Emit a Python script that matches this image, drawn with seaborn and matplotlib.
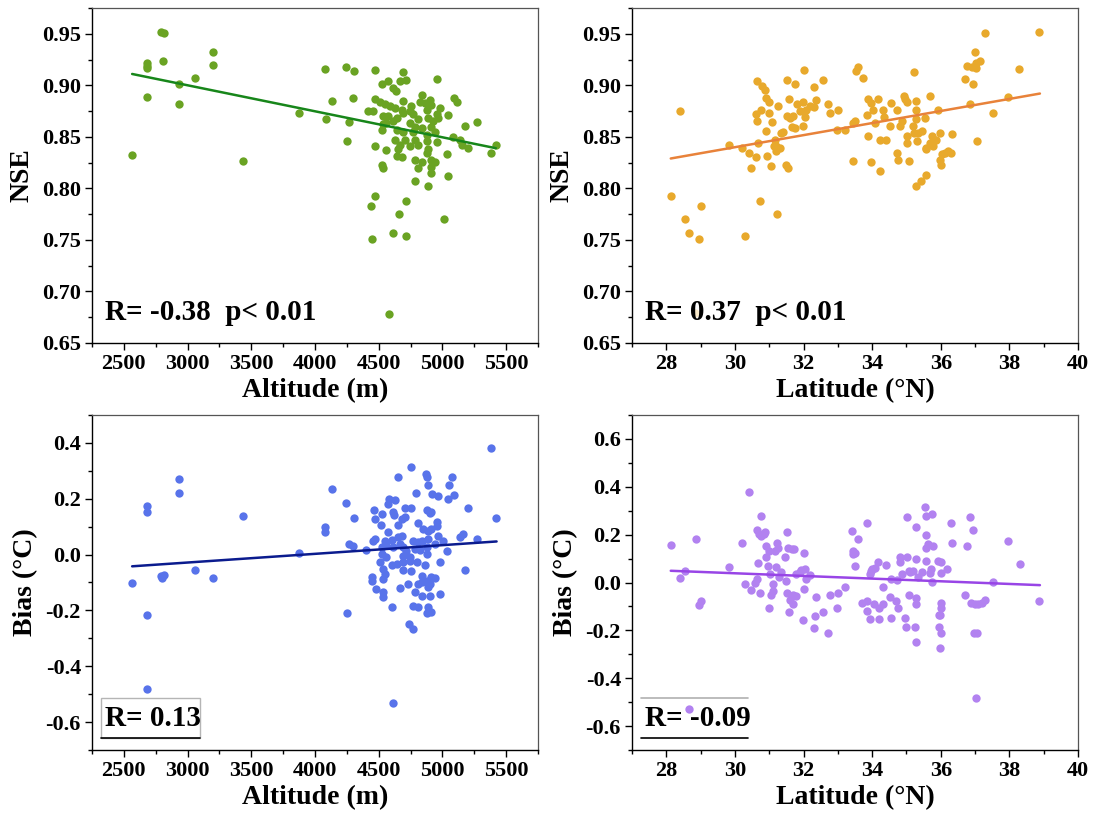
import matplotlib
matplotlib.use("Agg")
import matplotlib.pyplot as plt
import seaborn as sns
import numpy as np
from matplotlib.ticker import MultipleLocator, FormatStrFormatter
from matplotlib.patches import Rectangle

sns.set_theme(style="white")
plt.rcParams['font.family'] = ['Liberation Serif', 'DejaVu Serif']
plt.rcParams['font.weight'] = 'bold'
plt.rcParams['axes.unicode_minus'] = False
for k in ['text.color', 'axes.labelcolor', 'xtick.color', 'ytick.color']:
    plt.rcParams[k] = 'black'

# ---------------- Panel (a): NSE vs Altitude ----------------
alt_a = [2565, 2680, 2680, 2680, 2680, 2790, 2817, 2806, 2934, 2934, 3060, 3196, 3196,
         3434, 3876, 4080, 4085, 4130, 4242, 4250, 4268, 4295, 4308, 4441, 4444, 4580,
         4614, 4663, 4713, 4718, 5011, 5385, 5419,
         4470, 4687, 4522, 4574, 4614, 4635, 4666, 4718, 4954, 4470, 4514, 4548, 4417,
         4457, 4587, 4627, 4679, 4692, 4757, 4744, 4836, 4823, 4862, 4901, 4914, 4875,
         4980, 5090, 5116, 4535, 4574, 4614, 4561, 4640, 4692, 4771, 4810, 4784, 4744,
         4888, 4928, 4967, 4954, 5045, 4914, 4522, 4535, 4640, 4692, 4771, 4836, 4875,
         4941, 5176, 5273, 4470, 4561, 4627, 4666, 4705, 4653, 4744, 4784, 4810, 4875,
         4954, 5084, 5137, 5150, 5202, 4640, 4679, 4875, 4888, 5032, 4522, 4530, 4784,
         4836, 4810, 4914, 4941, 4914, 4914, 5045, 4784, 4888, 4470]
nse_a = [0.832, 0.889, 0.917, 0.919, 0.922, 0.952, 0.951, 0.924, 0.901, 0.882, 0.907,
         0.932, 0.920, 0.827, 0.873, 0.916, 0.867, 0.885, 0.918, 0.846, 0.864, 0.888,
         0.914, 0.783, 0.751, 0.678, 0.757, 0.775, 0.754, 0.788, 0.770, 0.834, 0.842,
         0.915, 0.913, 0.901, 0.904, 0.897, 0.894, 0.904, 0.905, 0.906, 0.887, 0.884,
         0.882, 0.875, 0.875, 0.880, 0.878, 0.876, 0.885, 0.880, 0.875, 0.891, 0.884,
         0.883, 0.886, 0.881, 0.876, 0.878, 0.888, 0.884, 0.870, 0.870, 0.865, 0.863,
         0.868, 0.873, 0.872, 0.867, 0.860, 0.863, 0.868, 0.865, 0.868, 0.872, 0.871,
         0.860, 0.857, 0.862, 0.857, 0.855, 0.855, 0.859, 0.852, 0.855, 0.861, 0.864,
         0.841, 0.837, 0.847, 0.842, 0.847, 0.838, 0.841, 0.847, 0.842, 0.846, 0.845,
         0.850, 0.847, 0.842, 0.839, 0.831, 0.830, 0.834, 0.838, 0.833, 0.823, 0.820,
         0.828, 0.826, 0.820, 0.828, 0.826, 0.821, 0.815, 0.812, 0.807, 0.802, 0.793]
fit_a_x = [2565, 5419]
fit_a_y = [0.911, 0.839]

# ---------------- Panel (b): NSE vs Latitude ----------------
lat_b = [28.13, 28.39, 28.55, 28.66, 28.94, 29.00, 29.83, 30.21, 30.29, 30.42, 30.46,
         30.60, 30.66, 30.65, 30.61, 30.65, 30.73, 30.77, 30.80, 30.87, 30.93, 30.92,
         30.90, 30.98, 31.00, 31.06, 31.09, 31.13, 31.19, 31.22, 31.16, 31.21, 31.26,
         31.31, 31.35, 31.40, 31.50, 31.55, 31.53, 31.57, 31.53, 31.60, 31.65, 31.70,
         31.74, 31.74, 31.82, 31.89, 31.97, 32.02, 31.99, 32.04, 32.08, 32.18, 32.31,
         32.36, 32.31, 32.57, 32.70, 32.78, 33.01, 32.98, 33.20, 33.45, 33.45, 33.50,
         33.52, 33.60, 33.72, 33.85, 33.87, 33.87, 33.98, 33.96, 34.03, 34.16, 34.08,
         34.22, 34.22, 34.32, 34.34, 34.40, 34.52, 34.56, 34.71, 34.71, 34.74, 34.81,
         34.88, 34.93, 34.95, 35.02, 35.02, 35.03, 35.07, 35.20, 35.22, 35.22, 35.27,
         35.29, 35.29, 35.32, 35.34, 35.44, 35.54, 35.57, 35.58, 35.68, 35.68, 35.73,
         35.78, 35.86, 35.93, 35.97, 35.99, 36.02, 36.04, 36.12, 36.22, 36.31, 36.34,
         35.29, 35.42, 35.56, 36.70, 36.75, 36.90, 36.95, 37.00, 37.04, 37.14, 37.04,
         36.85, 37.07, 37.29, 37.53, 37.97, 38.29, 38.87, 28.83]
nse_b = [0.793, 0.875, 0.770, 0.757, 0.751, 0.783, 0.842, 0.839, 0.754, 0.834, 0.820,
         0.830, 0.844, 0.904, 0.872, 0.865, 0.788, 0.876, 0.899, 0.895, 0.831, 0.856,
         0.888, 0.884, 0.873, 0.822, 0.864, 0.841, 0.841, 0.775, 0.847, 0.836, 0.880,
         0.839, 0.854, 0.855, 0.823, 0.820, 0.905, 0.887, 0.870, 0.868, 0.860, 0.870,
         0.901, 0.859, 0.882, 0.875, 0.861, 0.915, 0.884, 0.869, 0.876, 0.880, 0.898,
         0.886, 0.879, 0.905, 0.882, 0.873, 0.876, 0.857, 0.857, 0.863, 0.827, 0.865,
         0.914, 0.918, 0.907, 0.871, 0.887, 0.851, 0.826, 0.883, 0.876, 0.887, 0.863,
         0.847, 0.817, 0.876, 0.869, 0.847, 0.861, 0.883, 0.876, 0.834, 0.828, 0.861,
         0.865, 0.890, 0.887, 0.884, 0.851, 0.844, 0.827, 0.861, 0.913, 0.854, 0.876,
         0.885, 0.867, 0.846, 0.854, 0.856, 0.868, 0.838, 0.839, 0.890, 0.844, 0.851,
         0.841, 0.847, 0.876, 0.854, 0.828, 0.823, 0.833, 0.834, 0.836, 0.834, 0.853,
         0.802, 0.807, 0.813, 0.906, 0.919, 0.918, 0.901, 0.932, 0.922, 0.924, 0.917,
         0.882, 0.846, 0.951, 0.873, 0.889, 0.916, 0.952, 0.679]
fit_b_x = [28.13, 38.89]
fit_b_y = [0.829, 0.892]

# ---------------- Panel (c): Bias vs Altitude ----------------
alt_c = [2565, 2680, 2680, 2680, 2680, 2790, 2803, 2817, 2934, 2934, 3060, 3196, 3434,
         3876, 4080, 4080, 4130, 4242, 4250, 4268, 4295, 4308, 4611, 5385, 5419,
         4752, 4653, 4870, 4880, 5079, 4883, 5053, 4789, 4922, 4967, 5092, 5045, 4582,
         4627, 4574, 4464, 4522, 4470, 4614, 4621, 4705, 4757, 4875, 4901, 4914, 5202,
         4705, 4679, 4517, 4648, 4810, 4849, 4888, 4914, 4954, 4954, 4574, 4470, 4457,
         4548, 4601, 4653, 4679, 4771, 4810, 4836, 4888, 4967, 5006, 5137, 5163, 5273,
         4404, 4522, 4561, 4614, 4666, 4692, 4718, 4784, 4823, 4875, 4941, 5032, 4522,
         4561, 4687, 4744, 4875, 4514, 4601, 4640, 4692, 4744, 4797, 4862, 4980, 4535,
         4548, 4692, 4757, 4836, 4444, 4444, 4914, 4941, 4535, 4836, 4875, 4901, 4888,
         4810, 4731, 4666, 4478, 4530, 4535, 4784, 4836, 4901, 4980, 4608, 4771, 4810,
         4888, 4875, 4914, 4739, 4771, 5179]
bias_c = [-0.103, 0.175, 0.152, -0.215, -0.482, -0.075, -0.084, -0.072, 0.271, 0.220,
          -0.054, -0.085, 0.137, 0.005, 0.098, 0.080, 0.235, 0.184, -0.208, 0.038,
          0.032, 0.130, -0.531, 0.381, 0.130,
          0.315, 0.279, 0.289, 0.279, 0.277, 0.249, 0.249, 0.220, 0.217, 0.211, 0.214,
          0.199, 0.199, 0.196, 0.181, 0.158, 0.146, 0.128, 0.152, 0.143, 0.166, 0.166,
          0.160, 0.148, 0.152, 0.166, 0.134, 0.128, 0.107, 0.107, 0.112, 0.092, 0.086,
          0.092, 0.116, 0.104, 0.082, 0.056, 0.050, 0.048, 0.053, 0.062, 0.068, 0.050,
          0.044, 0.048, 0.056, 0.068, 0.050, 0.062, 0.072, 0.056, 0.017, 0.026, 0.035,
          0.026, 0.038, 0.026, 0.014, 0.020, 0.017, 0.026, 0.038, 0.012, 0.002, -0.007,
          -0.004, -0.010, 0.002, -0.027, -0.039, -0.033, -0.027, -0.022, -0.027, -0.039,
          -0.027, -0.051, -0.069, -0.057, -0.060, -0.075, -0.079, -0.096, -0.079, -0.084,
          -0.087, -0.099, -0.093, -0.105, -0.117, -0.105, -0.105, -0.119, -0.123, -0.135,
          -0.153, -0.135, -0.147, -0.150, -0.141, -0.186, -0.183, -0.186, -0.186, -0.210,
          -0.206, -0.248, -0.266, -0.057]
fit_c_x = [2565, 5425]
fit_c_y = [-0.042, 0.047]

# ---------------- Panel (d): Bias vs Latitude ----------------
lat_d = [28.13, 28.39, 28.55, 28.88, 28.94, 29.00, 28.66, 29.83, 30.20, 30.29, 30.42,
         30.46, 30.58, 30.63, 30.63, 30.67, 30.70, 30.76, 30.72, 30.77, 30.85, 30.87,
         30.92, 30.92, 30.95, 30.99, 31.00, 31.03, 31.06, 31.11, 31.11, 31.16, 31.21,
         31.24, 31.26, 31.29, 31.35, 31.47, 31.50, 31.51, 31.53, 31.55, 31.57, 31.60,
         31.65, 31.70, 31.70, 31.73, 31.79, 31.79, 31.89, 31.94, 31.99, 32.01, 32.01,
         32.04, 32.08, 32.18, 32.33, 32.36, 32.31, 32.57, 32.71, 32.78, 32.98, 33.01,
         33.22, 33.40, 33.45, 33.45, 33.50, 33.50, 33.60, 33.84, 33.71, 33.85, 33.85,
         33.93, 33.95, 33.98, 34.01, 34.06, 34.08, 34.16, 34.20, 34.20, 34.32, 34.32,
         34.39, 34.51, 34.56, 34.54, 34.69, 34.71, 34.76, 34.81, 34.81, 34.88, 34.95,
         35.00, 35.02, 35.03, 35.06, 35.08, 35.10, 35.20, 35.24, 35.27, 35.29, 35.29,
         35.29, 35.29, 35.34, 35.44, 35.54, 35.57, 35.57, 35.58, 35.58, 35.63, 35.68,
         35.71, 35.73, 35.73, 35.78, 35.93, 35.95, 35.95, 35.97, 35.99, 36.00, 36.02,
         36.02, 36.02, 36.02, 36.17, 36.29, 36.33, 36.70, 36.75, 36.85, 36.88, 36.95,
         36.97, 36.99, 37.06, 37.09, 37.04, 37.19, 37.29, 37.53, 37.97, 38.31, 38.87]
bias_d = [0.156, 0.017, 0.046, 0.181, -0.096, -0.077, -0.530, 0.064, 0.165, -0.008,
          0.379, -0.032, 0.000, 0.014, 0.219, 0.081, 0.202, 0.277, -0.045, 0.195,
          0.202, 0.213, 0.153, 0.107, 0.067, -0.107, 0.132, 0.035, -0.053, -0.007,
          -0.035, 0.132, 0.063, 0.167, 0.144, 0.025, 0.042, 0.105, 0.007, 0.209,
          -0.042, 0.144, -0.125, -0.073, 0.139, -0.053, -0.091, 0.139, -0.056, 0.035,
          0.042, 0.052, -0.156, 0.125, -0.028, 0.056, 0.014, 0.032, -0.142, -0.060,
          -0.191, -0.124, -0.212, -0.052, -0.105, -0.042, -0.018, 0.215, 0.132, 0.119,
          0.125, 0.067, 0.183, 0.247, -0.086, -0.079, -0.121, 0.035, -0.153, 0.046,
          0.056, -0.088, 0.060, 0.084, -0.153, -0.105, -0.018, -0.088, 0.073, -0.060,
          0.014, -0.148, -0.077, 0.010, -0.105, 0.107, 0.084, 0.035, -0.149, -0.188,
          0.275, 0.107, -0.053, 0.049, 0.042, 0.049, -0.187, -0.091, -0.063, -0.248,
          0.234, 0.098, 0.021, 0.042, 0.314, 0.199, 0.279, 0.146, 0.091, 0.160, 0.038,
          0.056, 0.003, 0.286, 0.153, 0.091, -0.135, -0.188, -0.135, -0.272, 0.084,
          -0.209, -0.084, -0.105, 0.038, 0.056, 0.248, 0.166, -0.053, 0.153, 0.272,
          -0.084, 0.219, -0.213, -0.088, -0.209, -0.088, -0.484, -0.084, -0.073, 0.004,
          0.174, 0.079, -0.078]
fit_d_x = [28.13, 38.89]
fit_d_y = [0.049, -0.011]

# ---------------- Figure ----------------
fig = plt.figure(figsize=(10.96, 8.22), dpi=100)
W, H = 1096, 822
def add_ax(l, t, r, b):
    return fig.add_axes([l / W, 1 - b / H, (r - l) / W, (b - t) / H])

ax1 = add_ax(92, 8, 538, 343)
ax2 = add_ax(632, 8, 1078, 343)
ax3 = add_ax(92, 415, 538, 750)
ax4 = add_ax(632, 415, 1078, 750)

panels = [
    (ax1, alt_a, nse_a, fit_a_x, fit_a_y, '#6aa323', '#17861a', 'Altitude (m)', 'NSE'),
    (ax2, lat_b, nse_b, fit_b_x, fit_b_y, '#e8a92c', '#e8823a', 'Latitude (°N)', 'NSE'),
    (ax3, alt_c, bias_c, fit_c_x, fit_c_y, '#5873ea', '#0b1b8e', 'Altitude (m)', 'Bias (°C)'),
    (ax4, lat_d, bias_d, fit_d_x, fit_d_y, '#b282f0', '#9845e6', 'Latitude (°N)', 'Bias (°C)'),
]

for ax, xs, ys, fx, fy, pc, lc, xl, yl in panels:
    sns.scatterplot(x=xs, y=ys, ax=ax, color=pc, s=36, linewidth=0, zorder=3)
    sns.lineplot(x=fx, y=fy, ax=ax, color=lc, linewidth=1.8, zorder=4)
    ax.set_xlabel(xl, fontsize=20, fontweight='bold', labelpad=3, color='black')
    ax.set_ylabel(yl, fontsize=20, fontweight='bold', labelpad=5, color='black')
    for side in ['left', 'bottom']:
        ax.spines[side].set_color('black')
        ax.spines[side].set_linewidth(1.0)
    for side in ['top', 'right']:
        ax.spines[side].set_color('#555555')
        ax.spines[side].set_linewidth(0.9)
    ax.tick_params(which='both', direction='out', bottom=True, left=True,
                   top=False, right=False, color='black', labelcolor='black')
    ax.tick_params(which='major', length=5, width=1, labelsize=16, pad=3)
    ax.tick_params(which='minor', length=3, width=1)
    ax.set_facecolor('white')

for ax in (ax1, ax3):
    ax.set_xlim(2250, 5750)
    ax.xaxis.set_major_locator(MultipleLocator(500))
    ax.xaxis.set_minor_locator(MultipleLocator(250))
for ax in (ax2, ax4):
    ax.set_xlim(27, 40)
    ax.xaxis.set_major_locator(MultipleLocator(2))
    ax.xaxis.set_minor_locator(MultipleLocator(1))
for ax in (ax1, ax2):
    ax.set_ylim(0.65, 0.975)
    ax.yaxis.set_major_locator(MultipleLocator(0.05))
    ax.yaxis.set_minor_locator(MultipleLocator(0.025))
    ax.yaxis.set_major_formatter(FormatStrFormatter('%.2f'))
ax3.set_ylim(-0.7, 0.5)
ax4.set_ylim(-0.7, 0.7)
for ax in (ax3, ax4):
    ax.yaxis.set_major_locator(MultipleLocator(0.2))
    ax.yaxis.set_minor_locator(MultipleLocator(0.1))
    ax.yaxis.set_major_formatter(FormatStrFormatter('%.1f'))

for ax in (ax1, ax2, ax3, ax4):
    for lab in ax.get_xticklabels() + ax.get_yticklabels():
        lab.set_fontweight('bold')

ax1.text(0.03, 0.09, 'R= -0.38  p< 0.01', transform=ax1.transAxes, fontsize=21,
         fontweight='bold', va='center', ha='left', zorder=6)
ax2.text(0.03, 0.09, 'R= 0.37  p< 0.01', transform=ax2.transAxes, fontsize=21,
         fontweight='bold', va='center', ha='left', zorder=6,
         bbox=dict(boxstyle='square,pad=0.05', fc='white', ec='none', alpha=0.75))

# boxed R labels in the bottom panels (grey frame on top, black rule underneath)
ax3.add_patch(Rectangle((0.02, 0.036), 0.222, 0.119, transform=ax3.transAxes,
                        fc='white', ec='#b5b5b5', lw=1.0, zorder=5))
ax3.plot([0.02, 0.242], [0.036, 0.036], transform=ax3.transAxes, color='black',
         lw=1.2, zorder=6)
ax3.text(0.03, 0.095, 'R= 0.13', transform=ax3.transAxes, fontsize=21,
         fontweight='bold', va='center', ha='left', zorder=7)

ax4.plot([0.02, 0.26], [0.155, 0.155], transform=ax4.transAxes, color='#b0b0b0',
         lw=1.2, zorder=6)
ax4.plot([0.02, 0.26], [0.036, 0.036], transform=ax4.transAxes, color='black',
         lw=1.2, zorder=6)
ax4.text(0.03, 0.095, 'R= -0.09', transform=ax4.transAxes, fontsize=21,
         fontweight='bold', va='center', ha='left', zorder=7)

fig.savefig('out.png', dpi=100, facecolor='white')
